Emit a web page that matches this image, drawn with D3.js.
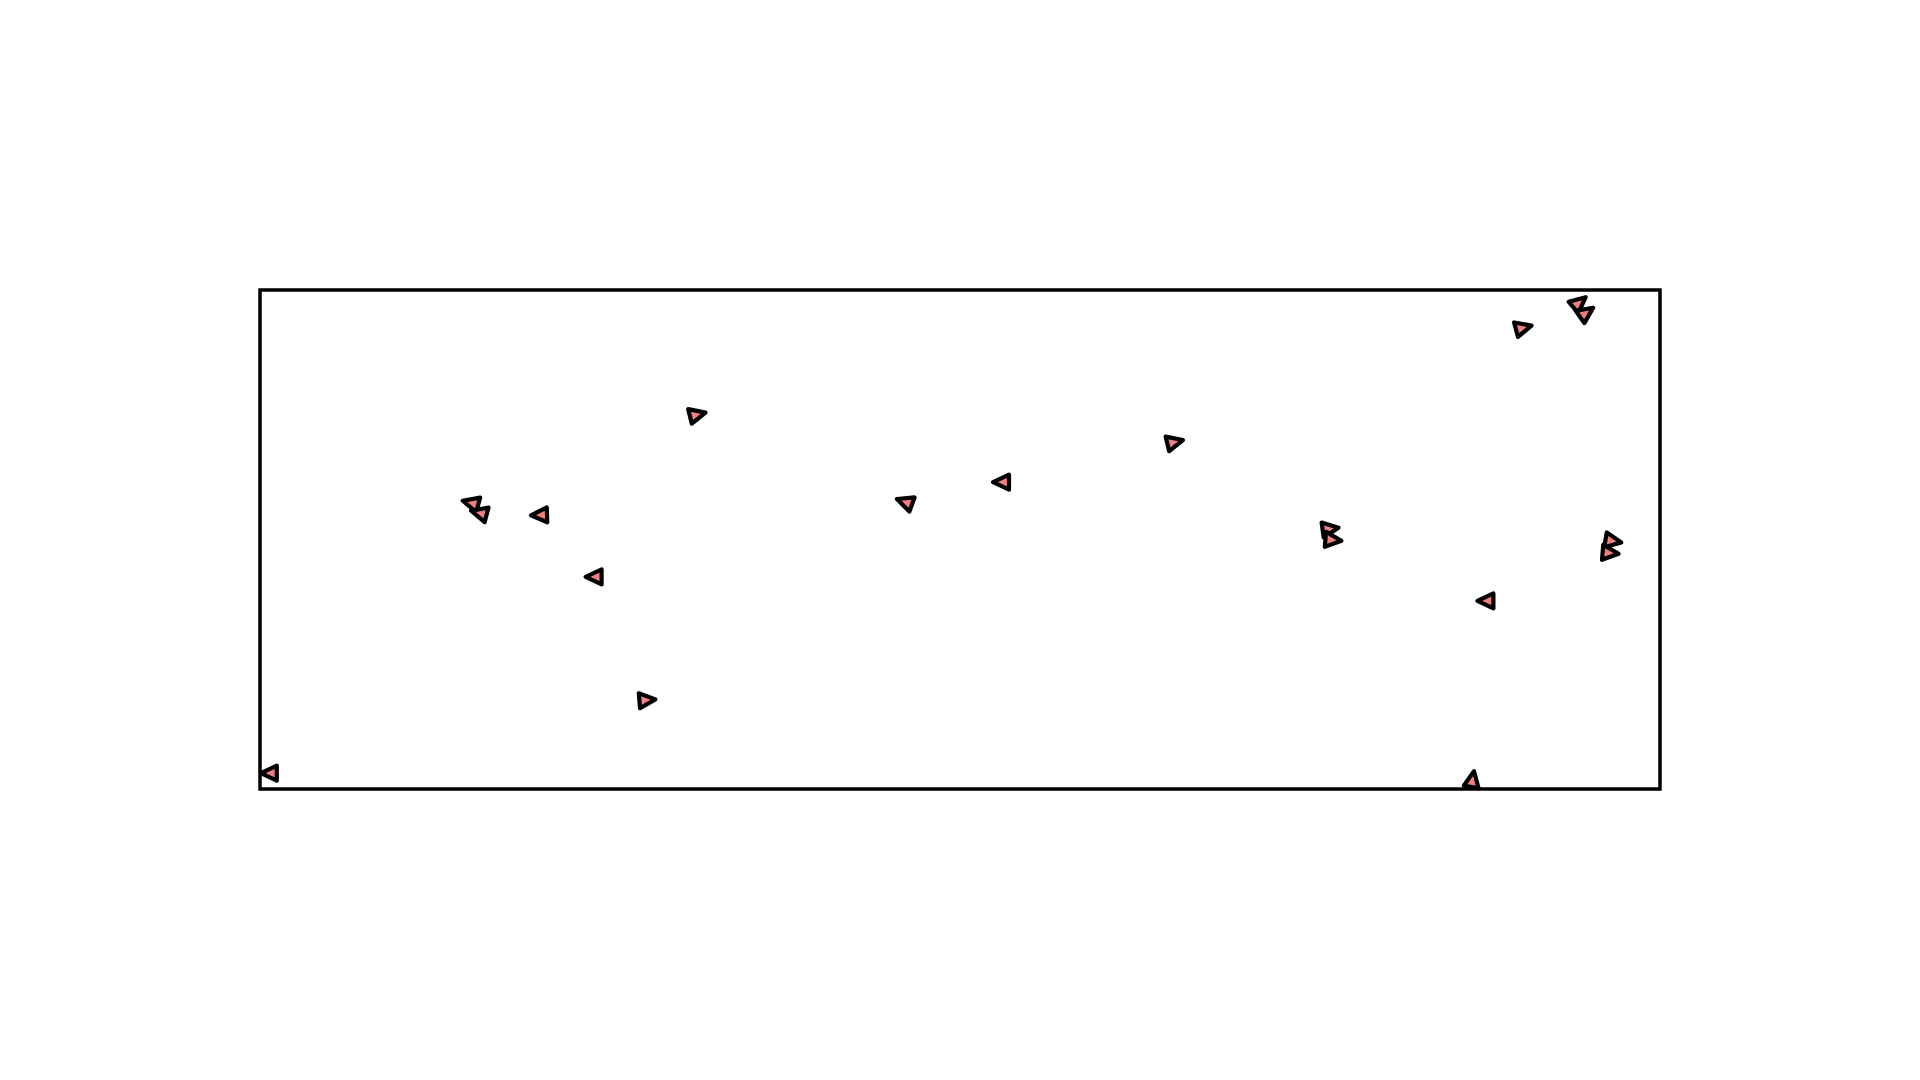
<!DOCTYPE html>
<html><head><meta charset="utf-8">
<script src="https://cdn.jsdelivr.net/npm/d3@7"></script>
<style>html,body{margin:0;padding:0;background:#fff;}svg{display:block;}</style>
</head><body>
<svg id="chart" width="1920" height="1080"></svg>
<script>
const xValues = [0.7, 15.1, 15.7, 20.0, 23.9, 27.6, 31.2, 46.1, 53.0, 65.3, 76.4, 76.6, 87.6, 86.6, 90.2, 94.2, 94.7, 96.6, 96.4];
const yValues = [3.2, 57.3, 55.3, 54.9, 42.5, 17.8, 75.0, 57.5, 61.5, 69.5, 52.1, 49.9, 37.7, 1.8, 92.4, 97.4, 95.4, 49.7, 47.3];
const angles  = [180, 195, 195, 178, 180, -5, -14, 200, 180, -14, -8, 5, 180, -80, -15, -40, -35, 10, 5];

const svg = d3.select("#chart");
const margin = {left: 260, top: 290, right: 1660, bottom: 789};
const x = d3.scaleLinear().domain([0, 100]).range([margin.left, margin.right]);
const y = d3.scaleLinear().domain([0, 100]).range([margin.bottom, margin.top]);

const pts = xValues.map((v, i) => ({x: v, y: yValues[i], a: angles[i]}));

const tri = "M9,0L-7,-7.5L-7,7.5Z";
svg.append("g").selectAll("path").data(pts).join("path")
  .attr("d", tri)
  .attr("transform", d => `translate(${x(d.x)},${y(d.y)}) rotate(${d.a})`)
  .attr("fill", "#f08080")
  .attr("stroke", "#000")
  .attr("stroke-width", 4.2)
  .attr("stroke-linejoin", "round");

svg.append("rect")
  .attr("x", margin.left).attr("y", margin.top)
  .attr("width", margin.right - margin.left).attr("height", margin.bottom - margin.top)
  .attr("fill", "none").attr("stroke", "#000").attr("stroke-width", 3.5);
</script>
</body></html>
